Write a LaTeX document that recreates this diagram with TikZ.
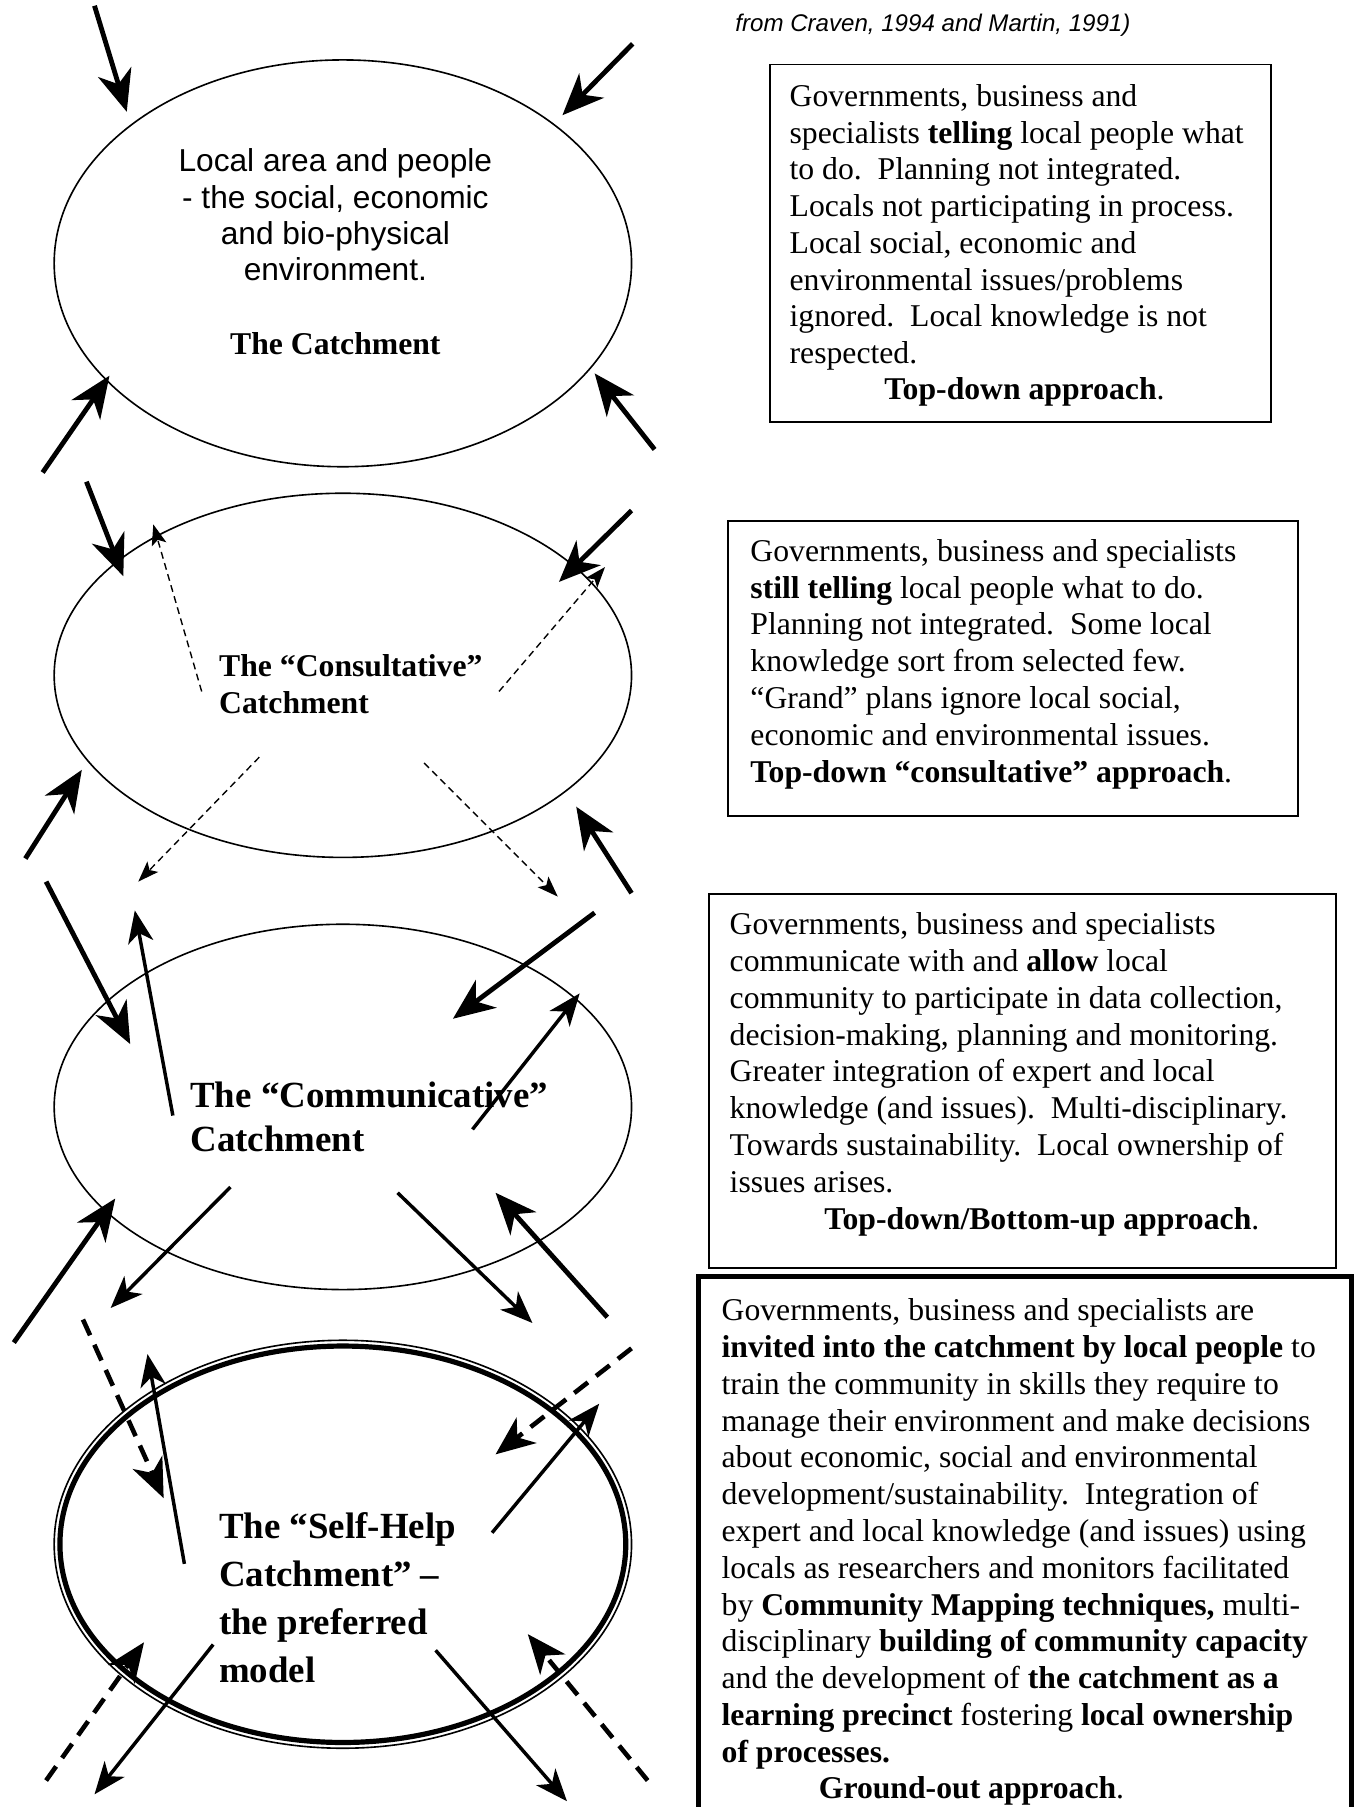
\documentclass[tikz,border=0pt]{standalone}
\usepackage{fontspec}
\setmainfont{Liberation Serif}
\newfontfamily\arialf{Liberation Sans}
\usetikzlibrary{arrows.meta,shapes.geometric}
\begin{document}
\begin{tikzpicture}[x=1pt,y=-1pt,
  bigarr/.style={line width=4.2pt,-{Stealth[length=36pt,width=30pt,inset=11pt]}},
  midarr/.style={line width=3pt,-{Stealth[length=28pt,width=22pt,inset=8pt]}},
  thindash/.style={line width=1.2pt,dash pattern=on 6pt off 4pt,-{Stealth[length=18pt,width=13pt,inset=4pt]}},
  bigdash/.style={line width=4pt,dash pattern=on 15pt off 9pt,-{Stealth[length=34pt,width=28pt,inset=10pt]}},
  catch/.style={draw,ellipse,line width=1.4pt,inner sep=0pt,minimum width=501pt},
  tbox/.style={draw,line width=1.5pt},
  body/.style={anchor=north west,inner sep=0pt,align=left,font=\fontsize{27.5}{31.9}\selectfont},
  lastline/.style={anchor=base,inner sep=0pt,font=\fontsize{27.5}{31.9}\selectfont},
  ctitle/.style={anchor=north west,inner sep=0pt,align=left,font=\bfseries\fontsize{27.5}{32}\selectfont}
]
\useasboundingbox (0,0) rectangle (1180,1568);
\clip (0,0) rectangle (1180,1568);
\lineskiplimit=-100pt

% caption
\node[anchor=base west,inner sep=0pt,font=\arialf\itshape\fontsize{20.9}{24}\selectfont] (cap) at (638,27) {from Craven, 1994 and Martin, 1991)};

% ---------- text boxes ----------
\draw[tbox] (668,56) rectangle (1103,366);
\node[body] (t1) at (685,66) {\rule{0pt}{26pt}Governments, business and\\
specialists \textbf{telling} local people what\\
to do.\ \ Planning not integrated.\\
Locals not participating in process.\\
Local social, economic and\\
environmental issues/problems\\
ignored.\ \ Local knowledge is not\\
respected.};
\node[lastline] (t1b) at (889,347) {\textbf{Top-down approach}.};

\draw[tbox] (632,452) rectangle (1126,708);
\node[body] (t2) at (651,461) {\rule{0pt}{26pt}Governments, business and specialists\\
\textbf{still telling} local people what to do.\\
Planning not integrated.\ \ Some local\\
knowledge sort from selected few.\\
``Grand'' plans ignore local social,\\
economic and environmental issues.\\
\textbf{Top-down ``consultative'' approach}.};

\draw[tbox] (615,776) rectangle (1159,1100);
\node[body] (t3) at (633,785) {\rule{0pt}{26pt}Governments, business and specialists\\
communicate with and \textbf{allow} local\\
community to participate in data collection,\\
decision-making, planning and monitoring.\\
Greater integration of expert and local\\
knowledge (and issues).\ \ Multi-disciplinary.\\
Towards sustainability.\ \ Local ownership of\\
issues arises.};
\node[lastline] (t3b) at (904,1067) {\textbf{Top-down/Bottom-up approach}.};

\draw[line width=4.2pt] (606,1108) rectangle (1173,1620);
\node[body] (t4) at (626,1120) {\rule{0pt}{26pt}Governments, business and specialists are\\
\textbf{invited into the catchment by local people} to\\
train the community in skills they require to\\
manage their environment and make decisions\\
about economic, social and environmental\\
development/sustainability.\ \ Integration of\\
expert and local knowledge (and issues) using\\
locals as researchers and monitors facilitated\\
by \textbf{Community Mapping techniques,} multi-\\
disciplinary \textbf{building of community capacity}\\
and the development of \textbf{the catchment as a}\\
\textbf{learning precinct} fostering \textbf{local ownership}\\
\textbf{of processes.}};
\node[lastline] (t4b) at (843,1561) {\textbf{Ground-out approach}.};

% ---------- catchment ellipses ----------
\node[catch,minimum height=353pt] (e1) at (297.5,228.5) {};
\node[catch,minimum height=316pt] (e2) at (297.5,586) {};
\node[catch,minimum height=317pt] (e3) at (297.5,960.5) {};
\node[catch,minimum height=354pt] (e4) at (297.5,1340) {};
\node[draw,ellipse,line width=4.5pt,inner sep=0pt,minimum width=491pt,minimum height=344pt] (e4in) at (297.5,1340) {};

% ellipse texts
\node[anchor=north,inner sep=0pt,align=center,font=\arialf\fontsize{27.5}{31.5}\selectfont] (l1) at (291,124) {\rule{0pt}{25pt}Local area and people\\- the social, economic\\and bio-physical\\environment.};
\node[anchor=base,inner sep=0pt,font=\bfseries\fontsize{27.5}{32}\selectfont] (l1b) at (291,308) {The Catchment};
\node[ctitle] (l2) at (190,561) {\rule{0pt}{26pt}The ``Consultative''\\Catchment};
\node[anchor=north west,inner sep=0pt,align=left,font=\bfseries\fontsize{32}{38}\selectfont] (l3) at (165,931) {\rule{0pt}{30pt}The ``Communicative''\\Catchment};
\node[anchor=north west,inner sep=0pt,align=left,font=\bfseries\fontsize{32}{41.5}\selectfont] (l4) at (190,1305) {\rule{0pt}{30pt}The ``Self-Help\\Catchment'' --\\the preferred\\model};

% ---------- arrow end points ----------
\path
 (82,5) coordinate (a1s)   (110,97) coordinate (a1e)
 (549,38) coordinate (a2s) (488,100) coordinate (a2e)
 (37,410) coordinate (a3s) (95,326) coordinate (a3e)
 (568,390) coordinate (a4s) (516,324) coordinate (a4e)
 (75,418) coordinate (b1s) (107,500) coordinate (b1e)
 (548,443) coordinate (b2s) (485,505) coordinate (b2e)
 (22,745) coordinate (b3s) (71,668) coordinate (b3e)
 (548,775) coordinate (b4s) (500,700) coordinate (b4e)
 (175,600) coordinate (d1s) (133,455) coordinate (d1e)
 (433,600) coordinate (d2s) (525,492) coordinate (d2e)
 (225,657) coordinate (d3s) (120,765) coordinate (d3e)
 (368,662) coordinate (d4s) (484,778) coordinate (d4e)
 (40,765) coordinate (c1s)  (113,906) coordinate (c1e)
 (516,792) coordinate (c2s) (393,884) coordinate (c2e)
 (12,1165) coordinate (c3s) (100,1040) coordinate (c3e)
 (527,1143) coordinate (c4s) (430,1035) coordinate (c4e)
 (150,968) coordinate (o1s) (117,790) coordinate (o1e)
 (410,980) coordinate (o2s) (503,862) coordinate (o2e)
 (200,1030) coordinate (o3s) (96,1135) coordinate (o3e)
 (345,1035) coordinate (o4s) (462,1148) coordinate (o4e)
 (72,1145) coordinate (f1s) (142,1300) coordinate (f1e)
 (548,1170) coordinate (f2s) (430,1262) coordinate (f2e)
 (40,1545) coordinate (f3s) (125,1425) coordinate (f3e)
 (562,1545) coordinate (f4s) (458,1418) coordinate (f4e)
 (160,1357) coordinate (g1s) (128,1175) coordinate (g1e)
 (427,1330) coordinate (g2s) (520,1218) coordinate (g2e)
 (185,1427) coordinate (g3s) (82,1557) coordinate (g3e)
 (378,1432) coordinate (g4s) (492,1563) coordinate (g4e);

% ---------- arrows ----------
\foreach \n in {a1,a2,a3,a4,b1,b2,b3,b4,c1,c2,c3,c4}
  \draw[bigarr] (\n s) -- (\n e);
\foreach \n in {d1,d2,d3,d4}
  \draw[thindash] (\n s) -- (\n e);
\foreach \n in {o1,o2,o3,o4,g1,g2,g3,g4}
  \draw[midarr] (\n s) -- (\n e);
\foreach \n in {f1,f2,f3,f4}
  \draw[bigdash] (\n s) -- (\n e);
\end{tikzpicture}
\end{document}
